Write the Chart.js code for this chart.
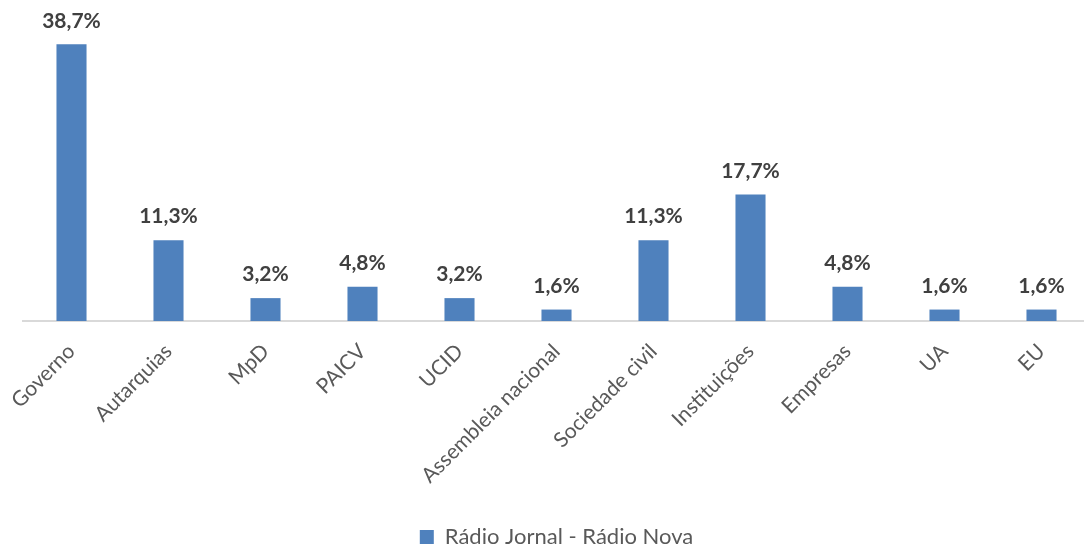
<!DOCTYPE html>
<html>
<head>
<meta charset="utf-8">
<script src="https://cdn.jsdelivr.net/npm/chart.js@4"></script>
<style>
  html, body { margin: 0; padding: 0; background: #fff; overflow: hidden; }
  #wrap { width: 1090px; height: 552px; }
</style>
</head>
<body>
<div id="wrap"><canvas id="c" width="1090" height="552"></canvas></div>
<script>
// --- data ---
const categories = ['Governo', 'Autarquias', 'MpD', 'PAICV', 'UCID', 'Assembleia nacional',
  'Sociedade civil', 'Instituições', 'Empresas', 'UA', 'EU'];
const shares = [38.7, 11.3, 3.2, 4.8, 3.2, 1.6, 11.3, 17.7, 4.8, 1.6, 1.6];
const seriesName = 'Rádio Jornal - Rádio Nova';

const FONT = 'Lato';
const BAR_COLOR = '#4f81bd';

// labels above each bar, "38,7%" style
const valueLabels = {
  id: 'valueLabels',
  afterDatasetsDraw(chart) {
    const ctx = chart.ctx;
    const meta = chart.getDatasetMeta(0);
    ctx.save();
    ctx.font = 'bold 21px ' + FONT;
    ctx.fillStyle = '#404040';
    ctx.textAlign = 'center';
    ctx.textBaseline = 'bottom';
    meta.data.forEach((bar, i) => {
      const txt = shares[i].toFixed(1).replace('.', ',') + '%';
      ctx.fillText(txt, bar.x, bar.y - 13);
    });
    ctx.restore();
  }
};

new Chart(document.getElementById('c').getContext('2d'), {
  type: 'bar',
  data: {
    labels: categories,
    datasets: [{
      label: seriesName,
      data: shares,
      backgroundColor: BAR_COLOR,
      borderWidth: 0,
      barPercentage: 0.31,
      categoryPercentage: 1
    }]
  },
  options: {
    animation: false,
    responsive: false,
    devicePixelRatio: 1,
    layout: { padding: { top: 35, left: 23, right: 0, bottom: -6 } },
    plugins: {
      legend: {
        position: 'bottom',
        labels: {
          boxWidth: 14,
          boxHeight: 14,
          color: '#595959',
          font: { size: 22, family: FONT },
          padding: 4
        }
      },
      tooltip: { enabled: false }
    },
    scales: {
      x: {
        grid: { display: false },
        border: { display: true, color: '#d9d9d9', width: 2 },
        ticks: {
          color: '#595959',
          font: { size: 21, family: FONT },
          maxRotation: 45,
          minRotation: 45,
          padding: 10,
          autoSkip: false
        },
        afterFit(scale) { scale.height = 201; }
      },
      y: {
        display: false,
        min: 0,
        max: 40
      }
    }
  },
  plugins: [valueLabels]
});
</script>
</body>
</html>
